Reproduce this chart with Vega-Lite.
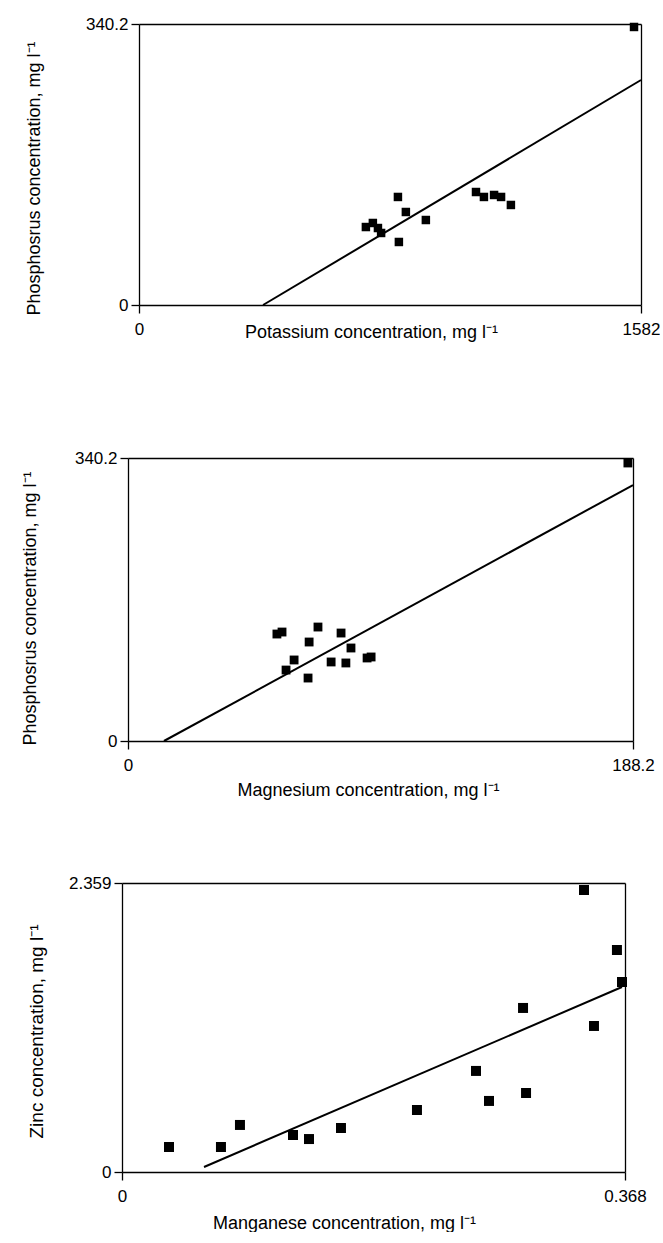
{
  "$schema": "https://vega.github.io/schema/vega-lite/v6.json",
  "background": "white",
  "padding": {"left": 20, "top": 15, "right": 0, "bottom": 0},
  "spacing": 75,
  "config": {
    "font": "Liberation Sans",
    "view": {"stroke": null},
    "axis": {
      "grid": false,
      "domainColor": "black",
      "domainWidth": 1.3,
      "tickColor": "black",
      "tickWidth": 1.3,
      "labelColor": "black",
      "titleColor": "black",
      "labelFontSize": 17,
      "titleFontSize": 18,
      "titleFontWeight": "normal",
      "labelFlush": false,
      "labelOverlap": false,
      "labelExpr": "datum.value + ''"
    },
    "axisY": {"tickSize": 8, "labelPadding": 3, "titleBaseline": "middle"},
    "axisX": {"tickSize": 8, "labelPadding": 8, "titleBaseline": "top"}
  },
  "datasets": {
    "pk": [
      {"potassium": 715, "phosphorus": 94.4},
      {"potassium": 737, "phosphorus": 99.3},
      {"potassium": 753, "phosphorus": 93.2},
      {"potassium": 763, "phosphorus": 87.2},
      {"potassium": 816, "phosphorus": 130.8},
      {"potassium": 841, "phosphorus": 112.6},
      {"potassium": 819, "phosphorus": 76.3},
      {"potassium": 904, "phosphorus": 102.9},
      {"potassium": 1062, "phosphorus": 136.8},
      {"potassium": 1087, "phosphorus": 130.8},
      {"potassium": 1119, "phosphorus": 133.2},
      {"potassium": 1141, "phosphorus": 130.8},
      {"potassium": 1172, "phosphorus": 121.1},
      {"potassium": 1560, "phosphorus": 336.6}
    ],
    "pk_fit": [
      {"potassium": 391, "phosphorus": 0},
      {"potassium": 1582, "phosphorus": 272.4}
    ],
    "pmg": [
      {"magnesium": 55.5, "phosphorus": 128.6},
      {"magnesium": 57.4, "phosphorus": 131.0},
      {"magnesium": 70.8, "phosphorus": 137.0},
      {"magnesium": 67.5, "phosphorus": 119.0},
      {"magnesium": 79.4, "phosphorus": 129.8},
      {"magnesium": 83.1, "phosphorus": 111.8},
      {"magnesium": 61.9, "phosphorus": 97.4},
      {"magnesium": 58.9, "phosphorus": 85.3},
      {"magnesium": 67.1, "phosphorus": 75.7},
      {"magnesium": 75.7, "phosphorus": 95.0},
      {"magnesium": 81.2, "phosphorus": 93.8},
      {"magnesium": 89.1, "phosphorus": 99.8},
      {"magnesium": 90.6, "phosphorus": 101.0},
      {"magnesium": 186.3, "phosphorus": 334.2}
    ],
    "pmg_fit": [
      {"magnesium": 13.4, "phosphorus": 0},
      {"magnesium": 188.2, "phosphorus": 307.7}
    ],
    "mnzn": [
      {"manganese": 0.0344, "zinc": 0.204},
      {"manganese": 0.0724, "zinc": 0.204},
      {"manganese": 0.0863, "zinc": 0.384},
      {"manganese": 0.1251, "zinc": 0.302},
      {"manganese": 0.1368, "zinc": 0.269},
      {"manganese": 0.1602, "zinc": 0.359},
      {"manganese": 0.2158, "zinc": 0.506},
      {"manganese": 0.2590, "zinc": 0.825},
      {"manganese": 0.2685, "zinc": 0.580},
      {"manganese": 0.2956, "zinc": 0.645},
      {"manganese": 0.2934, "zinc": 1.339},
      {"manganese": 0.3380, "zinc": 2.302},
      {"manganese": 0.3453, "zinc": 1.192},
      {"manganese": 0.3621, "zinc": 1.812},
      {"manganese": 0.3658, "zinc": 1.551}
    ],
    "mnzn_fit": [
      {"manganese": 0.0600, "zinc": 0.041},
      {"manganese": 0.3658, "zinc": 1.510}
    ]
  },
  "vconcat": [
    {
      "width": 519,
      "height": 281,
      "layer": [
        {"data": {"name": "pk"},
         "mark": {"type": "square", "size": 72, "color": "black", "opacity": 1},
         "encoding": {
           "x": {"field": "potassium", "type": "quantitative",
             "scale": {"domain": [0, 1582], "nice": false, "range": [17, 519]},
             "axis": {"orient": "bottom", "values": [0, 1582], "title": "Potassium concentration, mg l⁻¹", "titleX": 249, "titleY": 18}},
           "y": {"field": "phosphorus", "type": "quantitative",
             "scale": {"domain": [0, 340.2], "nice": false},
             "axis": {"orient": "left", "offset": -17, "values": [0, 340.2], "title": "Phosphosrus concentration, mg l⁻¹", "titleX": -105, "titleY": 154}}
         }},
        {"data": {"name": "pk_fit"},
         "mark": {"type": "line", "color": "black", "strokeWidth": 2},
         "encoding": {
           "x": {"field": "potassium", "type": "quantitative",
             "axis": {"orient": "top", "labels": false, "ticks": false, "title": null}},
           "y": {"field": "phosphorus", "type": "quantitative",
             "axis": {"orient": "right", "labels": false, "ticks": false, "title": null}}
         }}
      ]
    },
    {
      "width": 511,
      "height": 283,
      "title": {"text": " ", "fontSize": 12, "offset": 20},
      "layer": [
        {"data": {"name": "pmg"},
         "mark": {"type": "square", "size": 78, "color": "black", "opacity": 1},
         "encoding": {
           "x": {"field": "magnesium", "type": "quantitative",
             "scale": {"domain": [0, 188.2], "nice": false, "range": [6, 511]},
             "axis": {"orient": "bottom", "values": [0, 188.2], "title": "Magnesium concentration, mg l⁻¹", "titleX": 246, "titleY": 40}},
           "y": {"field": "phosphorus", "type": "quantitative",
             "scale": {"domain": [0, 340.2], "nice": false},
             "axis": {"orient": "left", "offset": -6, "values": [0, 340.2], "title": "Phosphosrus concentration, mg l⁻¹", "titleX": -98, "titleY": 150}}
         }},
        {"data": {"name": "pmg_fit"},
         "mark": {"type": "line", "color": "black", "strokeWidth": 2},
         "encoding": {
           "x": {"field": "magnesium", "type": "quantitative",
             "axis": {"orient": "top", "labels": false, "ticks": false, "title": null}},
           "y": {"field": "phosphorus", "type": "quantitative",
             "axis": {"orient": "right", "labels": false, "ticks": false, "title": null}}
         }}
      ]
    },
    {
      "width": 503,
      "height": 289,
      "layer": [
        {"data": {"name": "mnzn"},
         "mark": {"type": "square", "size": 100, "color": "black", "opacity": 1},
         "encoding": {
           "x": {"field": "manganese", "type": "quantitative",
             "scale": {"domain": [0, 0.368], "nice": false},
             "axis": {"orient": "bottom", "values": [0, 0.368], "title": "Manganese concentration, mg l⁻¹", "titleX": 222, "titleY": 42}},
           "y": {"field": "zinc", "type": "quantitative",
             "scale": {"domain": [0, 2.359], "nice": false},
             "axis": {"orient": "left", "values": [0, 2.359], "title": "Zinc concentration, mg l⁻¹", "titleX": -86, "titleY": 148, "titleFontSize": 19}}
         }},
        {"data": {"name": "mnzn_fit"},
         "mark": {"type": "line", "color": "black", "strokeWidth": 2},
         "encoding": {
           "x": {"field": "manganese", "type": "quantitative",
             "axis": {"orient": "top", "labels": false, "ticks": false, "title": null}},
           "y": {"field": "zinc", "type": "quantitative",
             "axis": {"orient": "right", "labels": false, "ticks": false, "title": null}}
         }}
      ]
    }
  ]
}
